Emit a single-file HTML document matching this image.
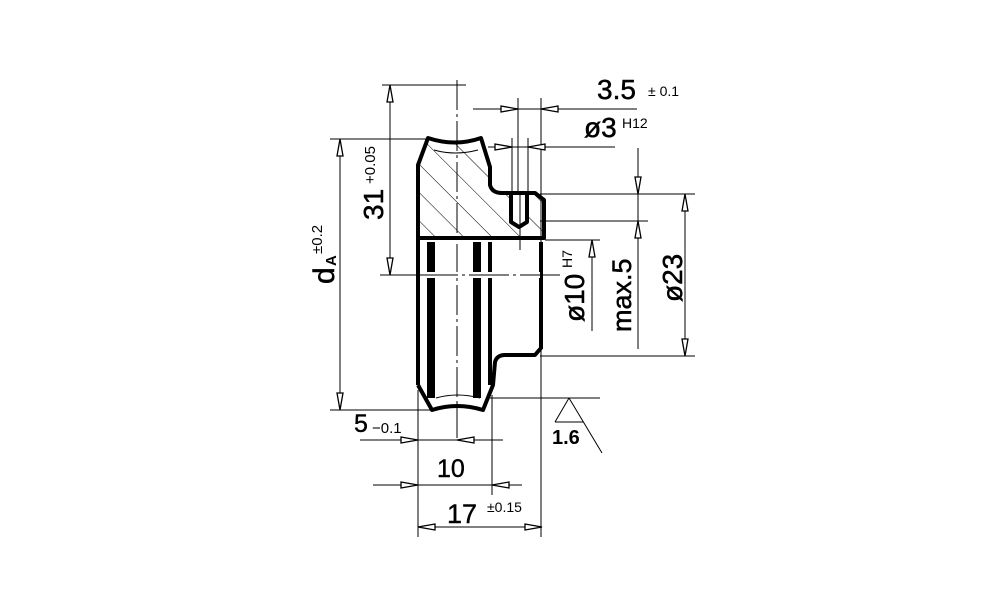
<!DOCTYPE html>
<html><head><meta charset="utf-8"><style>
html,body{margin:0;padding:0;background:#fff;}
svg{display:block}
text{font-family:"Liberation Sans",sans-serif;fill:#000}
</style></head><body>
<svg width="1000" height="611" viewBox="0 0 1000 611" xmlns="http://www.w3.org/2000/svg">
<defs>
<polygon id="ar" points="0,0 -17,-3 -17,3" fill="#fff" stroke="#000" stroke-width="1.3"/>
<pattern id="hatch" patternUnits="userSpaceOnUse" width="20" height="20" patternTransform="rotate(-45)">
<line x1="0" y1="0" x2="0" y2="20" stroke="#000" stroke-width="1"/>
</pattern>
</defs>

<path d="M418,165 L428,138 Q455,147 481,138 L490,167 L490,185 Q492,193 502,193 L511,193 L511,222 L519,227 L527,222 L527,193 L535,193 L544,200 L544,238 L418,238 Z" fill="url(#hatch)"/>
<rect x="511" y="193" width="16" height="30" fill="#fff"/>

<g fill="none" stroke="#000" stroke-linejoin="round">
<g stroke-width="1">
<line x1="382" y1="85" x2="466" y2="85"/>
<line x1="457" y1="80" x2="457" y2="440" stroke-dasharray="30,4,3,4"/>
<line x1="380" y1="275" x2="560" y2="275" stroke-dasharray="40,4,3,4"/>
<line x1="390" y1="85" x2="390" y2="275"/>
<line x1="330" y1="139" x2="430" y2="139"/>
<line x1="330" y1="410" x2="432" y2="410"/>
<line x1="340" y1="139" x2="340" y2="410"/>
<line x1="473" y1="109" x2="637" y2="109"/>
<line x1="518" y1="98" x2="518" y2="195"/>
<line x1="541" y1="98" x2="541" y2="537"/>
<line x1="488" y1="147" x2="615" y2="147"/>
<line x1="512" y1="138" x2="512" y2="195"/>
<line x1="528" y1="138" x2="528" y2="195"/>
<line x1="520" y1="195" x2="520" y2="250"/>
<line x1="540" y1="194" x2="695" y2="194"/>
<line x1="540" y1="221" x2="648" y2="221"/>
<line x1="638" y1="148" x2="638" y2="349"/>
<line x1="545" y1="240" x2="600" y2="240"/>
<line x1="592" y1="240" x2="592" y2="331"/>
<line x1="685" y1="194" x2="685" y2="356"/>
<line x1="540" y1="356" x2="695" y2="356"/>
<line x1="360" y1="440" x2="503" y2="440"/>
<line x1="373" y1="485" x2="522" y2="485"/>
<line x1="418" y1="527" x2="542" y2="527"/>
<line x1="418" y1="390" x2="418" y2="537"/>
<line x1="492" y1="395" x2="492" y2="495"/>
<line x1="490" y1="398" x2="600" y2="398"/>
<polyline points="555,422 569,398 602,453"/>
<line x1="555" y1="422" x2="583" y2="422"/>
<path d="M434,150 Q455,156 478,150"/>
<path d="M436,398 Q457,392 480,398"/>
</g>
<g stroke-width="4">
<path d="M418,165 L428,138 Q455,147 481,138 L490,167 L490,185 Q492,193 502,193 L535,193 L544,200 L544,238 L418,238 Z"/>
<path d="M511,195 L511,222 L519,227 L527,222 L527,195"/>
<line x1="418" y1="165" x2="418" y2="385"/>
<path d="M418,385 L432,410 Q457,402 483,410 L493,385 L495,362 Q497,355 505,355 L535,355 L541,348 L541,242"/>
<line x1="490" y1="242" x2="490" y2="385"/>
</g>
<g stroke-width="8">
<line x1="431" y1="242" x2="431" y2="398"/>
<line x1="477" y1="242" x2="477" y2="398"/>
</g>
</g>
<rect x="420" y="272" width="120" height="6" fill="#fff"/>
<line x1="418" y1="275" x2="545" y2="275" stroke="#000" stroke-width="1" stroke-dasharray="40,4,3,4"/>

<use href="#ar" transform="translate(390,85) rotate(-90)"/>
<use href="#ar" transform="translate(390,275) rotate(90)"/>
<use href="#ar" transform="translate(340,139) rotate(-90)"/>
<use href="#ar" transform="translate(340,410) rotate(90)"/>
<use href="#ar" transform="translate(518,109)"/>
<use href="#ar" transform="translate(541,109) rotate(180)"/>
<use href="#ar" transform="translate(512,147)"/>
<use href="#ar" transform="translate(528,147) rotate(180)"/>
<use href="#ar" transform="translate(638,194) rotate(90)"/>
<use href="#ar" transform="translate(638,221) rotate(-90)"/>
<use href="#ar" transform="translate(592,240) rotate(-90)"/>
<use href="#ar" transform="translate(685,194) rotate(-90)"/>
<use href="#ar" transform="translate(685,356) rotate(90)"/>
<use href="#ar" transform="translate(418,440)"/>
<use href="#ar" transform="translate(457,440) rotate(180)"/>
<use href="#ar" transform="translate(418,485)"/>
<use href="#ar" transform="translate(492,485) rotate(180)"/>
<use href="#ar" transform="translate(418,527) rotate(180)"/>
<use href="#ar" transform="translate(542,527)"/>

<text x="597" y="99" font-size="28" stroke="#000" stroke-width="0.5">3.5</text>
<text x="648" y="96" font-size="14">± 0.1</text>
<text x="584" y="137" font-size="28" stroke="#000" stroke-width="0.5">ø3</text>
<text x="622" y="128" font-size="14">H12</text>
<text x="354" y="432" font-size="25" stroke="#000" stroke-width="0.4">5</text>
<text x="372" y="433" font-size="15">−0.1</text>
<text x="437" y="477" font-size="25" stroke="#000" stroke-width="0.4">10</text>
<text x="447" y="523" font-size="27" stroke="#000" stroke-width="0.4">17</text>
<text x="487" y="512" font-size="14">±0.15</text>
<text x="552" y="444" font-size="20" font-weight="bold">1.6</text>
<g transform="translate(383,220) rotate(-90)"><text x="0" y="0" font-size="28" stroke="#000" stroke-width="0.5">31</text><text x="36" y="-8" font-size="15">+0.05</text></g>
<g transform="translate(334,284) rotate(-90)"><text x="0" y="0" font-size="30" stroke="#000" stroke-width="0.5">d</text><text x="18" y="2" font-size="15" font-weight="bold">A</text><text x="30" y="-12" font-size="15">±0.2</text></g>
<g transform="translate(584,322) rotate(-90)"><text x="0" y="0" font-size="28" stroke="#000" stroke-width="0.5">ø10</text><text x="54" y="-12" font-size="14">H7</text></g>
<g transform="translate(631,332) rotate(-90)"><text x="0" y="0" font-size="27" stroke="#000" stroke-width="0.5">max.5</text></g>
<g transform="translate(682,302) rotate(-90)"><text x="0" y="0" font-size="28" stroke="#000" stroke-width="0.5">ø23</text></g>
</svg>
</body></html>
